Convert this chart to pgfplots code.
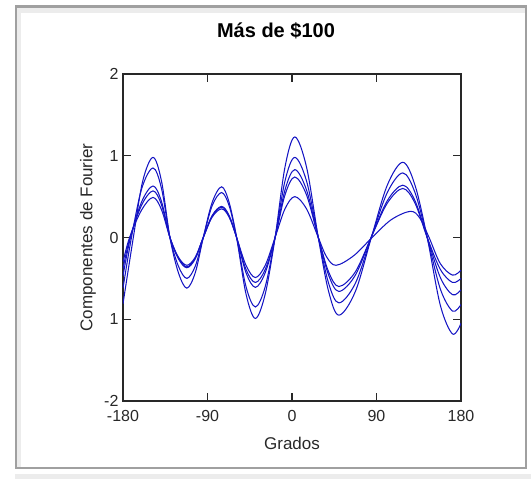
\documentclass[border=0pt]{standalone}
\usepackage{pgfplots}
\pgfplotsset{compat=1.18}
\usepackage{fontspec}
\setmainfont{Liberation Sans}
\definecolor{curve}{RGB}{20,20,195}
\definecolor{axisc}{RGB}{40,40,40}
\definecolor{frameg}{RGB}{160,160,160}
\definecolor{framel}{RGB}{236,236,236}
\pgfplotsset{fc/.style={curve, line width=1.05pt, smooth, tension=0.55, mark=none}}
\begin{document}
\begin{tikzpicture}[x=1pt,y=1pt]
\path[use as bounding box] (0,0) rectangle (531,479);
% window frame
\fill[framel] (17,12) rectangle (21,471);
\fill[framel] (17,466) rectangle (526,471);
\fill[framel] (15,0) rectangle (531,5);
\draw[frameg, line width=2.5pt] (16,11) rectangle (526,472.5);
\begin{axis}[
  at={(123pt,78pt)}, anchor=south west,
  scale only axis, width=338pt, height=327pt,
  xmin=-180, xmax=180, ymin=-2, ymax=2,
  xtick={-180,-90,0,90,180},
  xticklabels={-180,-90,0,90,180},
  ytick={-2,-1,0,1,2},
  yticklabels={-2,1,0,1,2},
  tick align=inside,
  major tick length=8pt,
  axis line style={axisc, line width=1.1pt},
  every tick/.style={axisc, line width=1.1pt},
  tick label style={font=\fontsize{16}{16}\selectfont, text=axisc},
  xticklabel style={yshift=-6pt},
  yticklabel style={xshift=-1pt},
  title={\textbf{Más de \$100}},
  title style={font=\fontsize{20}{20}\selectfont, at={(axis description cs:0.4527,1.113)}, anchor=center},
  xlabel={Grados},
  xlabel style={font=\fontsize{17}{17}\selectfont, text=axisc, at={(axis description cs:0.5,-0.1284)}, anchor=center},
  ylabel={Componentes de Fourier},
  ylabel style={font=\fontsize{17}{17}\selectfont, text=axisc, at={(axis description cs:-0.1035,0.5)}, anchor=center},
  clip=true,
]
% Curve A
\addplot[fc] coordinates {(-180,-0.81) (-169,0) (-159,0.69) (-148,0.98) (-139,0.69) (-130,0) (-121,-0.43) (-112,-0.62) (-103,-0.43) (-94.5,0) (-85,0.43) (-75,0.62) (-67,0.43) (-59,0) (-49,-0.69) (-39,-0.99) (-28.5,-0.69) (-18,0) (-7.5,0.86) (3,1.23) (15.5,0.86) (28,0) (39,-0.66) (50,-0.95) (67.5,-0.66) (85,0.02) (101.5,0.64) (118,0.92) (131,0.64) (144,0) (158,-0.83) (171,-1.18) (180,-1.05)};
% Curve B
\addplot[fc] coordinates {(-180,-0.62) (-171,0) (-160,0.60) (-148,0.85) (-139,0.60) (-130,0) (-121,-0.35) (-112,-0.50) (-103,-0.35) (-94.5,0) (-85,0.39) (-75,0.55) (-67,0.39) (-59,0) (-49,-0.60) (-39,-0.85) (-28.5,-0.60) (-18,0) (-7.5,0.69) (3,0.98) (15.5,0.69) (28,0) (39,-0.56) (50,-0.80) (67.5,-0.56) (85,0.02) (101.5,0.55) (118,0.79) (131,0.55) (144,0) (158,-0.63) (171,-0.90) (180,-0.82)};
% Curve C
\addplot[fc] coordinates {(-180,-0.47) (-172,0) (-160,0.44) (-148,0.63) (-139,0.44) (-130,0) (-121,-0.26) (-112,-0.37) (-103,-0.26) (-94.5,0) (-85,0.27) (-75,0.38) (-67,0.27) (-59,0) (-49,-0.43) (-39,-0.61) (-28.5,-0.43) (-18,0) (-7.5,0.58) (3,0.83) (15.5,0.58) (28,0) (39,-0.46) (50,-0.66) (67.5,-0.46) (85,0.02) (101.5,0.45) (118,0.64) (131,0.45) (144,0) (158,-0.49) (171,-0.70) (180,-0.64)};
% Curve D
\addplot[fc] coordinates {(-180,-0.38) (-172.5,0) (-160,0.40) (-148,0.57) (-139,0.40) (-130,0) (-121,-0.25) (-112,-0.36) (-103,-0.25) (-94.5,0) (-85,0.26) (-75,0.37) (-67,0.26) (-59,0) (-49,-0.39) (-39,-0.55) (-28.5,-0.39) (-18,0) (-7.5,0.52) (3,0.74) (15.5,0.52) (28,0) (39,-0.42) (50,-0.60) (67.5,-0.42) (85,0.02) (101.5,0.42) (118,0.60) (131,0.42) (144,0) (158,-0.39) (171,-0.55) (180,-0.50)};
% Curve E
\addplot[fc] coordinates {(-180,-0.30) (-173,0) (-160,0.34) (-148,0.49) (-139,0.34) (-130,0) (-121,-0.24) (-112,-0.34) (-103,-0.24) (-94.5,0) (-85,0.25) (-75,0.35) (-67,0.25) (-59,0) (-49,-0.34) (-39,-0.49) (-28.5,-0.34) (-18,0) (-7.5,0.35) (3,0.50) (15.5,0.35) (28,0) (37,-0.24) (47,-0.34) (66,-0.22) (87,0.02) (106,0.22) (126,0.32) (136,0.24) (146,0) (158,-0.32) (171,-0.46) (180,-0.40)};
\end{axis}
\end{tikzpicture}
\end{document}
